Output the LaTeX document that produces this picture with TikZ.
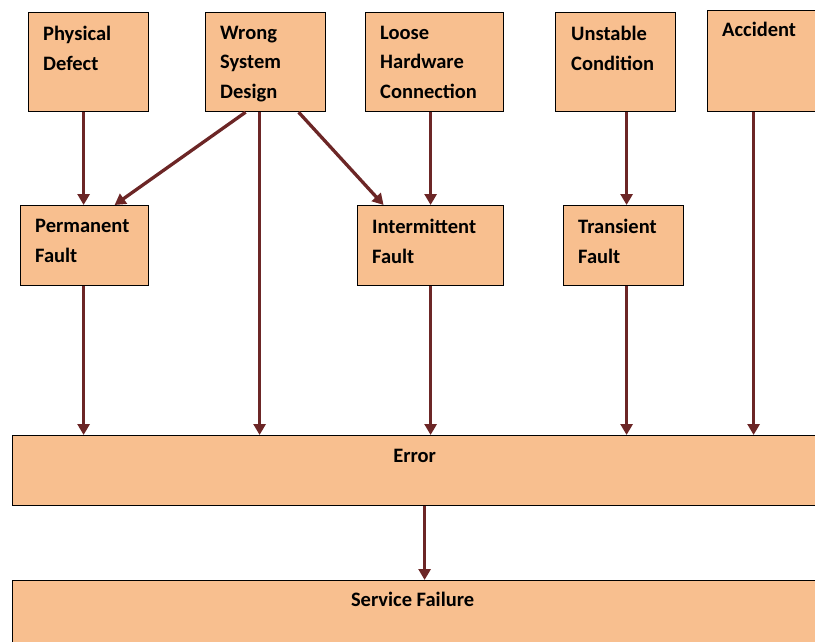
\documentclass[tikz,border=0pt]{standalone}
\usepackage{fontspec}
\setmainfont{Carlito}
\usetikzlibrary{arrows.meta,positioning}
\definecolor{boxfill}{RGB}{248,191,143}
\definecolor{arrred}{RGB}{108,38,38}

\begin{document}
\begin{tikzpicture}[x=1pt, y=-1pt,
  box/.style={draw=black, fill=boxfill, line width=1.2pt, inner sep=0pt, anchor=north west},
  txt/.style={align=left, inner sep=0pt, font=\fontsize{20.5}{29.5}\selectfont\bfseries},
  arr/.style={-{Triangle[length=11pt,width=12pt]}, draw=arrred, line width=3.3pt}]
\useasboundingbox (0,0) rectangle (815,641);
% causes
\node[box, minimum width=120pt, minimum height=99pt] (pd) at (28,12) {};
\node[box, minimum width=120pt, minimum height=99pt] (wsd) at (205,12) {};
\node[box, minimum width=138pt, minimum height=99pt] (lhc) at (365,12) {};
\node[box, minimum width=120pt, minimum height=99pt] (uc) at (555,12) {};
\node[box, minimum width=112pt, minimum height=101pt] (acc) at (707,10) {};
% faults
\node[box, minimum width=128pt, minimum height=80pt] (pf) at (20,205) {};
\node[box, minimum width=146pt, minimum height=80pt] (if) at (357,205) {};
\node[box, minimum width=120pt, minimum height=80pt] (tf) at (563,205) {};
% error and failure
\node[box, minimum width=806pt, minimum height=70pt] (err) at (12,435) {};
\node[box, minimum width=806pt, minimum height=64pt] (sf) at (12,580) {};
% texts
\node[txt, below right=14pt and 15pt of pd.north west] (pdtxt) {Physical\\Defect};
\node[txt, below right=14pt and 15pt of wsd.north west] (wsdtxt) {Wrong\\System\\Design};
\node[txt, below right=14pt and 15pt of lhc.north west] (lhctxt) {Loose\\Hardware\\Connection};
\node[txt, below right=14pt and 16pt of uc.north west] (uctxt) {Unstable\\Condition};
\node[txt, below right=12pt and 15pt of acc.north west] (acctxt) {Accident};
\node[txt, below right=14pt and 15pt of pf.north west] (pftxt) {Permanent\\Fault};
\node[txt, below right=14pt and 15pt of if.north west] (iftxt) {Intermittent\\Fault};
\node[txt, below right=14pt and 15pt of tf.north west] (tftxt) {Transient\\Fault};
\node[txt, below=14pt of err.north, xshift=-1pt] (errtxt) {Error};
\node[txt, below=12pt of sf.north, xshift=-3pt] (sftxt) {Service Failure};
% connectors
\draw[arr] ([xshift=-5pt]pd.south) -- ([xshift=-1pt]pf.north);
\draw[arr] ([xshift=-20pt]wsd.south) -- ([xshift=30pt]pf.north);
\draw[arr] ([xshift=-6pt]wsd.south) -- ([xshift=-156pt]err.north);
\draw[arr] ([xshift=33pt]wsd.south) -- ([xshift=-47pt]if.north);
\draw[arr] ([xshift=-4pt]lhc.south) -- (if.north);
\draw[arr] ([xshift=11pt]uc.south) -- ([xshift=3pt]tf.north);
\draw[arr] ([xshift=-10pt]acc.south) -- ([xshift=338pt]err.north);
\draw[arr] ([xshift=-1pt]pf.south) -- ([xshift=-332pt]err.north);
\draw[arr] (if.south) -- ([xshift=15pt]err.north);
\draw[arr] ([xshift=3pt]tf.south) -- ([xshift=211pt]err.north);
\draw[arr] ([xshift=9pt]err.south) -- ([xshift=9pt]sf.north);
\end{tikzpicture}
\end{document}
